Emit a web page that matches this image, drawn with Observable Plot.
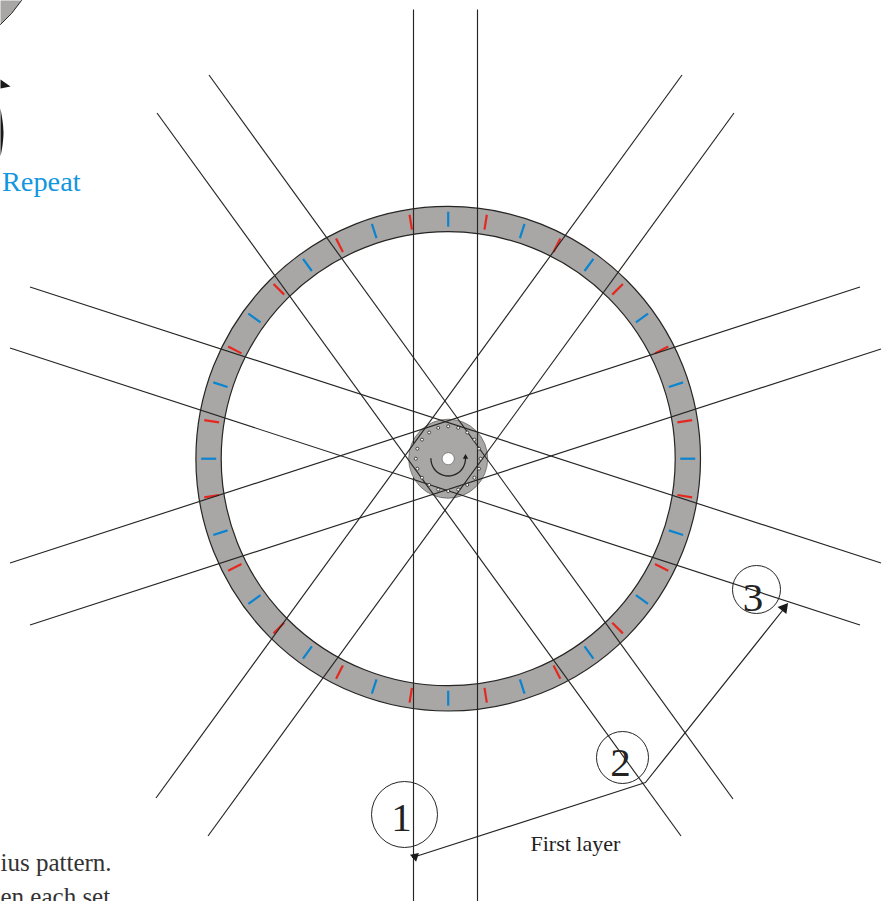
<!DOCTYPE html>
<html><head><meta charset="utf-8">
<script src="https://cdn.jsdelivr.net/npm/d3@7"></script>
<script src="https://cdn.jsdelivr.net/npm/@observablehq/plot@0.6"></script>
<style>html,body{margin:0;padding:0;background:#fff}svg{display:block}</style>
</head><body><div id="c"></div><script>
const CX = 447.7, CY = 458.2;
const tickAngles = [0,9,18,27,36,45,54,63,72,81,90,99,108,117,126,135,144,153,162,171,180,189,198,207,216,225,234,243,252,261,270,279,288,297,306,315,324,333,342,351];
const tickKinds = ["b","r","b","r","b","r","b","r","b","r","b","r","b","r","b","r","b","r","b","r","b","r","b","r","b","r","b","r","b","r","b","r","b","r","b","r","b","r","b","r"];
const pinAngles = [0,18,36,54,72,90,108,126,144,162,180,198,216,234,252,270,288,306,324,342];
const arcAngles = [90,105,120,135,150,165,180,195,210,225,240,255,270];
const spokeX1 = [413,413,477,208.5,156.5,681.5,733.5,29.5,9.5,9.5,29.5];
const spokeY1 = [9,477,9,74.5,112.5,74.5,112.5,286.5,347.5,562.5,624.5];
const spokeX2 = [413,413,477,732.5,680.5,155.5,207.5,880.5,859.5,859.5,880.5];
const spokeY2 = [443,901,901,798.5,835.5,797.5,835.5,562.5,624.5,286.5,348.5];
const circleX = [404,622,756];
const circleY = [814,757,589];
const circleR = [33,26,24];
const digitText = ["1","2","3"];
const digitX = [401,620,752.5];
const digitY = [830,775,610];
const pathX = [412,645,786];
const pathY = [857,782,605];
const headPointX = [414.5,783.5];
const headPointY = [856,607.5];
const headTurn = [-72,38.6];
const headSize = [3.4,4.2];
const wedgeX = [0,21,11,0];
const wedgeY = [0,0,13,24];
const headX = [0,10,0];
const headY = [79,86,88];
const crescentX = [0,2,3,2,0];
const crescentY = [108,120,132,145,156];
const labelText = ["Repeat","First layer","ius pattern.","en each set."];
const labelX = [1.5,530,0,0];
const labelY = [190,850,870,904];

const polar = (a, r) => [CX + r*Math.sin(a*Math.PI/180), CY - r*Math.cos(a*Math.PI/180)];
const serif = "Liberation Serif";
const ink = "#262524", grey = "#a8a7a5";
const n = a => ({length: a.length});

const plot = Plot.plot({
  width: 892, height: 901, margin: 0,
  style: {background: "#fff"},
  x: {axis: null, domain: [0,892], range: [0,892]},
  y: {axis: null, domain: [0,901], range: [0,901]},
  r: {type: "identity"},
  marks: [
    Plot.line(wedgeX.map((x,i)=>[x,wedgeY[i]]), {x:"0", y:"1", fill:grey, stroke:"none"}),
    Plot.line(wedgeX.slice(1).map((x,i)=>[x,wedgeY[i+1]]), {x:"0", y:"1", stroke:ink, strokeWidth:1}),
    Plot.line(headX.map((x,i)=>[x,headY[i]]), {x:"0", y:"1", fill:"#1a1a1a", stroke:"none"}),
    Plot.line(crescentX.map((x,i)=>[x,crescentY[i]]), {x:"0", y:"1", fill:"#1a1a1a", stroke:"none", curve:"catmull-rom"}),
    Plot.dot([0], {x:()=>CX, y:()=>CY, r:()=>252.3, fill:grey, stroke:ink, strokeWidth:1.2}),
    Plot.dot([0], {x:()=>CX, y:()=>CY, r:()=>227, fill:"#fff", stroke:ink, strokeWidth:1.2}),
    Plot.dot([0], {x:()=>CX, y:()=>CY, r:()=>39.5, fill:grey, stroke:"#555", strokeWidth:0.7}),
    Plot.link(n(tickAngles), {
      x1: tickAngles.map(a=>polar(a,232)[0]), y1: tickAngles.map(a=>polar(a,232)[1]),
      x2: tickAngles.map(a=>polar(a,247)[0]), y2: tickAngles.map(a=>polar(a,247)[1]),
      stroke: tickKinds.map(k=>k==="b"?"#0b84cf":"#e5281f"), strokeWidth: 2.2
    }),
    Plot.link(n(spokeX1), {x1:spokeX1, y1:spokeY1, x2:spokeX2, y2:spokeY2, stroke:ink, strokeWidth:1.15}),
    Plot.dot(pinAngles, {x:a=>polar(a,32.4)[0], y:a=>polar(a,32.4)[1], r:()=>1.5, fill:"#fff", stroke:ink, strokeWidth:0.8}),
    Plot.dot([0], {x:()=>CX, y:()=>CY, r:()=>6, fill:"#fff", stroke:ink, strokeWidth:0.4}),
    Plot.line(arcAngles, {x:a=>polar(a,17.3)[0], y:a=>polar(a,17.3)[1], stroke:ink, strokeWidth:1.3, curve:"catmull-rom"}),
    Plot.dot([0], {x:()=>CX+17.3, y:()=>CY-1.5, r:()=>2, symbol:"triangle", fill:"#1a1a1a"}),
    Plot.dot(n(circleX), {x:circleX, y:circleY, r:circleR, stroke:ink, strokeWidth:1, fill:"none"}),
    Plot.text(digitText, {x:digitX, y:digitY, text:d=>d, fontFamily:serif, fontSize:41, fill:"#222", lineAnchor:"bottom", textAnchor:"middle"}),
    Plot.line(pathX.map((x,i)=>[x,pathY[i]]), {x:"0", y:"1", stroke:ink, strokeWidth:1.2}),
    Plot.dot(n(headPointX), {x:headPointX, y:headPointY, r:headSize, rotate:headTurn, symbol:"triangle", fill:"#1a1a1a"}),
    Plot.text([labelText[0]], {x:[labelX[0]], y:[labelY[0]], text:d=>d, fontFamily:serif, fontSize:28.3, fill:"#1296de", lineAnchor:"bottom", textAnchor:"start"}),
    Plot.text([labelText[1]], {x:[labelX[1]], y:[labelY[1]], text:d=>d, fontFamily:serif, fontSize:22, fill:"#222", lineAnchor:"bottom", textAnchor:"start"}),
    Plot.text(labelText.slice(2), {x:labelX.slice(2), y:labelY.slice(2), text:d=>d, fontFamily:serif, fontSize:25, fill:"#333", lineAnchor:"bottom", textAnchor:"start"})
  ]
});
document.getElementById("c").append(plot);
</script></body></html>
